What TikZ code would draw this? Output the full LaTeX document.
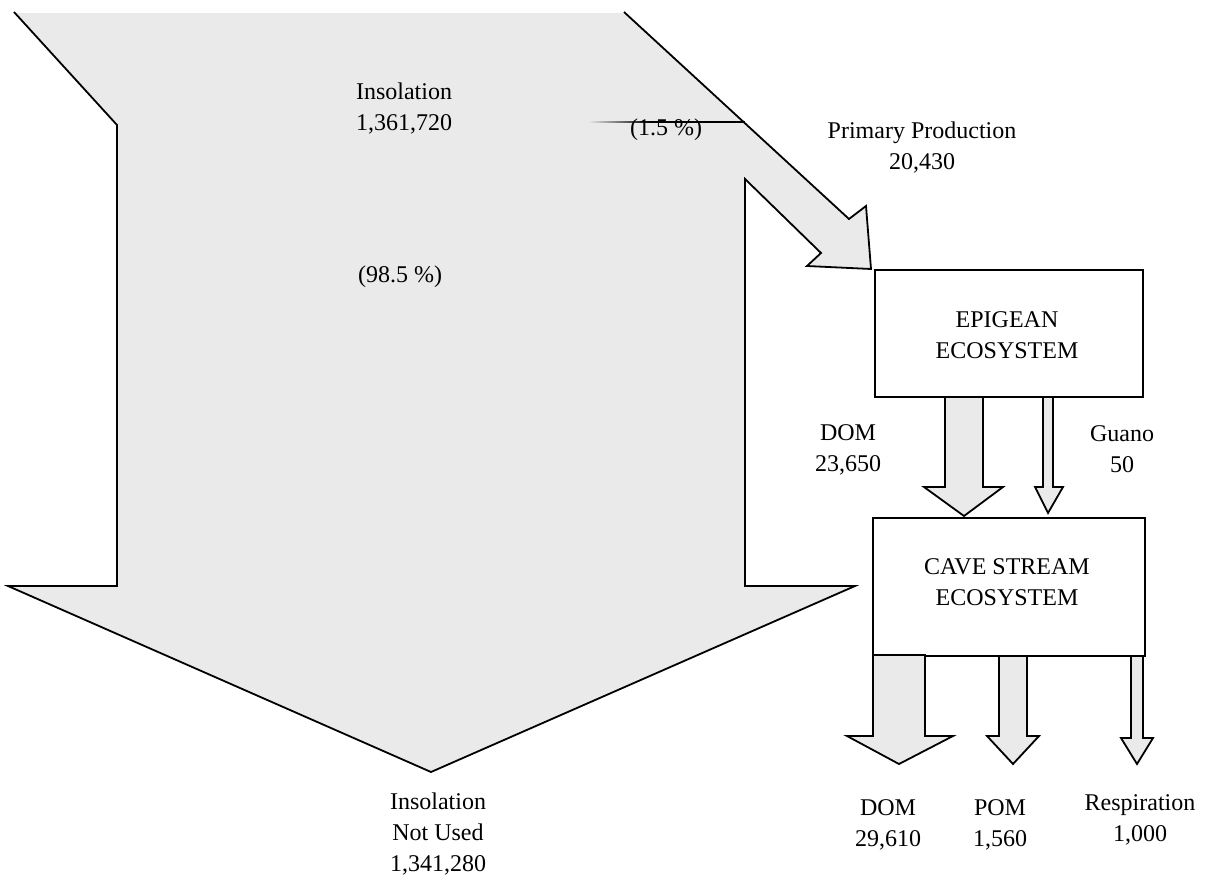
\documentclass[tikz,border=0pt]{standalone}
\usepackage{fontspec}
\setmainfont{Liberation Serif}
\definecolor{flowgray}{HTML}{EAEAEA}
\newcommand\blockarr[7]{% x1 x2 ytop yneck hx1 hx2 ytip
  \draw[flow] (#1,#3) -- (#1,#4) -- (#5,#4) -- ({(#1+#2)/2},#7) -- (#6,#4) -- (#2,#4) -- (#2,#3) -- cycle;}
\begin{document}
\begin{tikzpicture}[x=0.5pt,y=-0.5pt,
  flow/.style={fill=flowgray, draw=black, line width=0.9pt, line join=miter},
  boxnode/.style={draw, line width=1pt, fill=white, inner sep=0pt},
  lbl/.style={font=\fontsize{12}{15.5}\selectfont, align=center, inner sep=0pt}]
\useasboundingbox (0,0) rectangle (1215,878);

% large split flow (insolation)
\fill[flowgray] (15,13) -- (624,13) -- (849,219) -- (866,206) -- (871,269) -- (807,266) -- (821,253)
  -- (745,179) -- (745,586) -- (855,586) -- (431,772) -- (8,586) -- (117,586) -- (117,125) -- cycle;
\draw[line width=0.9pt, line join=miter] (14,12) -- (117,125) -- (117,586) -- (8,586) -- (431,772)
  -- (855,586) -- (745,586) -- (745,179) -- (821,253) -- (807,266) -- (871,269) -- (866,206)
  -- (849,219) -- (624,12);
\shade[left color=flowgray, right color=black] (588,121.4) rectangle (650,122.6);
\draw[line width=0.6pt] (650,122) -- (745,122);

% boxes
\node[boxnode, minimum width=134pt, minimum height=63.5pt] (epi) at (1009,333.5) {};
\node[boxnode, minimum width=136pt, minimum height=69pt] (cave) at (1009,587) {};
\node[lbl] (epitxt) at (1007,335) {EPIGEAN\\ECOSYSTEM};
\node[lbl] (cavetxt) at (1007,582.5) {CAVE STREAM\\ECOSYSTEM};

% block arrows
\blockarr{945}{983}{397}{487}{924}{1003}{516}
\blockarr{1043}{1053}{397}{487}{1035}{1063}{513}
\blockarr{873}{925}{655}{736}{847}{953}{764}
\blockarr{999}{1027}{656}{736}{987}{1039}{764}
\blockarr{1131}{1143}{656}{738}{1121}{1153}{764}

% labels
\node[lbl] (ins) at (404,109) {Insolation\\1,361,720};
\node[lbl] (p15) at (666,130) {(1.5 \%)};
\node[lbl] (p985) at (400,277) {(98.5 \%)};
\node[lbl] (prim) at (922,148) {Primary Production\\20,430};
\node[lbl] (dom1) at (848,450) {DOM\\23,650};
\node[lbl] (guano) at (1122,449) {Guano\\50};
\node[lbl] (notused) at (438,834) {Insolation\\Not Used\\1,341,280};
\node[lbl] (dom2) at (888,825) {DOM\\29,610};
\node[lbl] (pom) at (1000,825) {POM\\1,560};
\node[lbl] (resp) at (1140,820) {Respiration\\1,000};
\end{tikzpicture}
\end{document}
